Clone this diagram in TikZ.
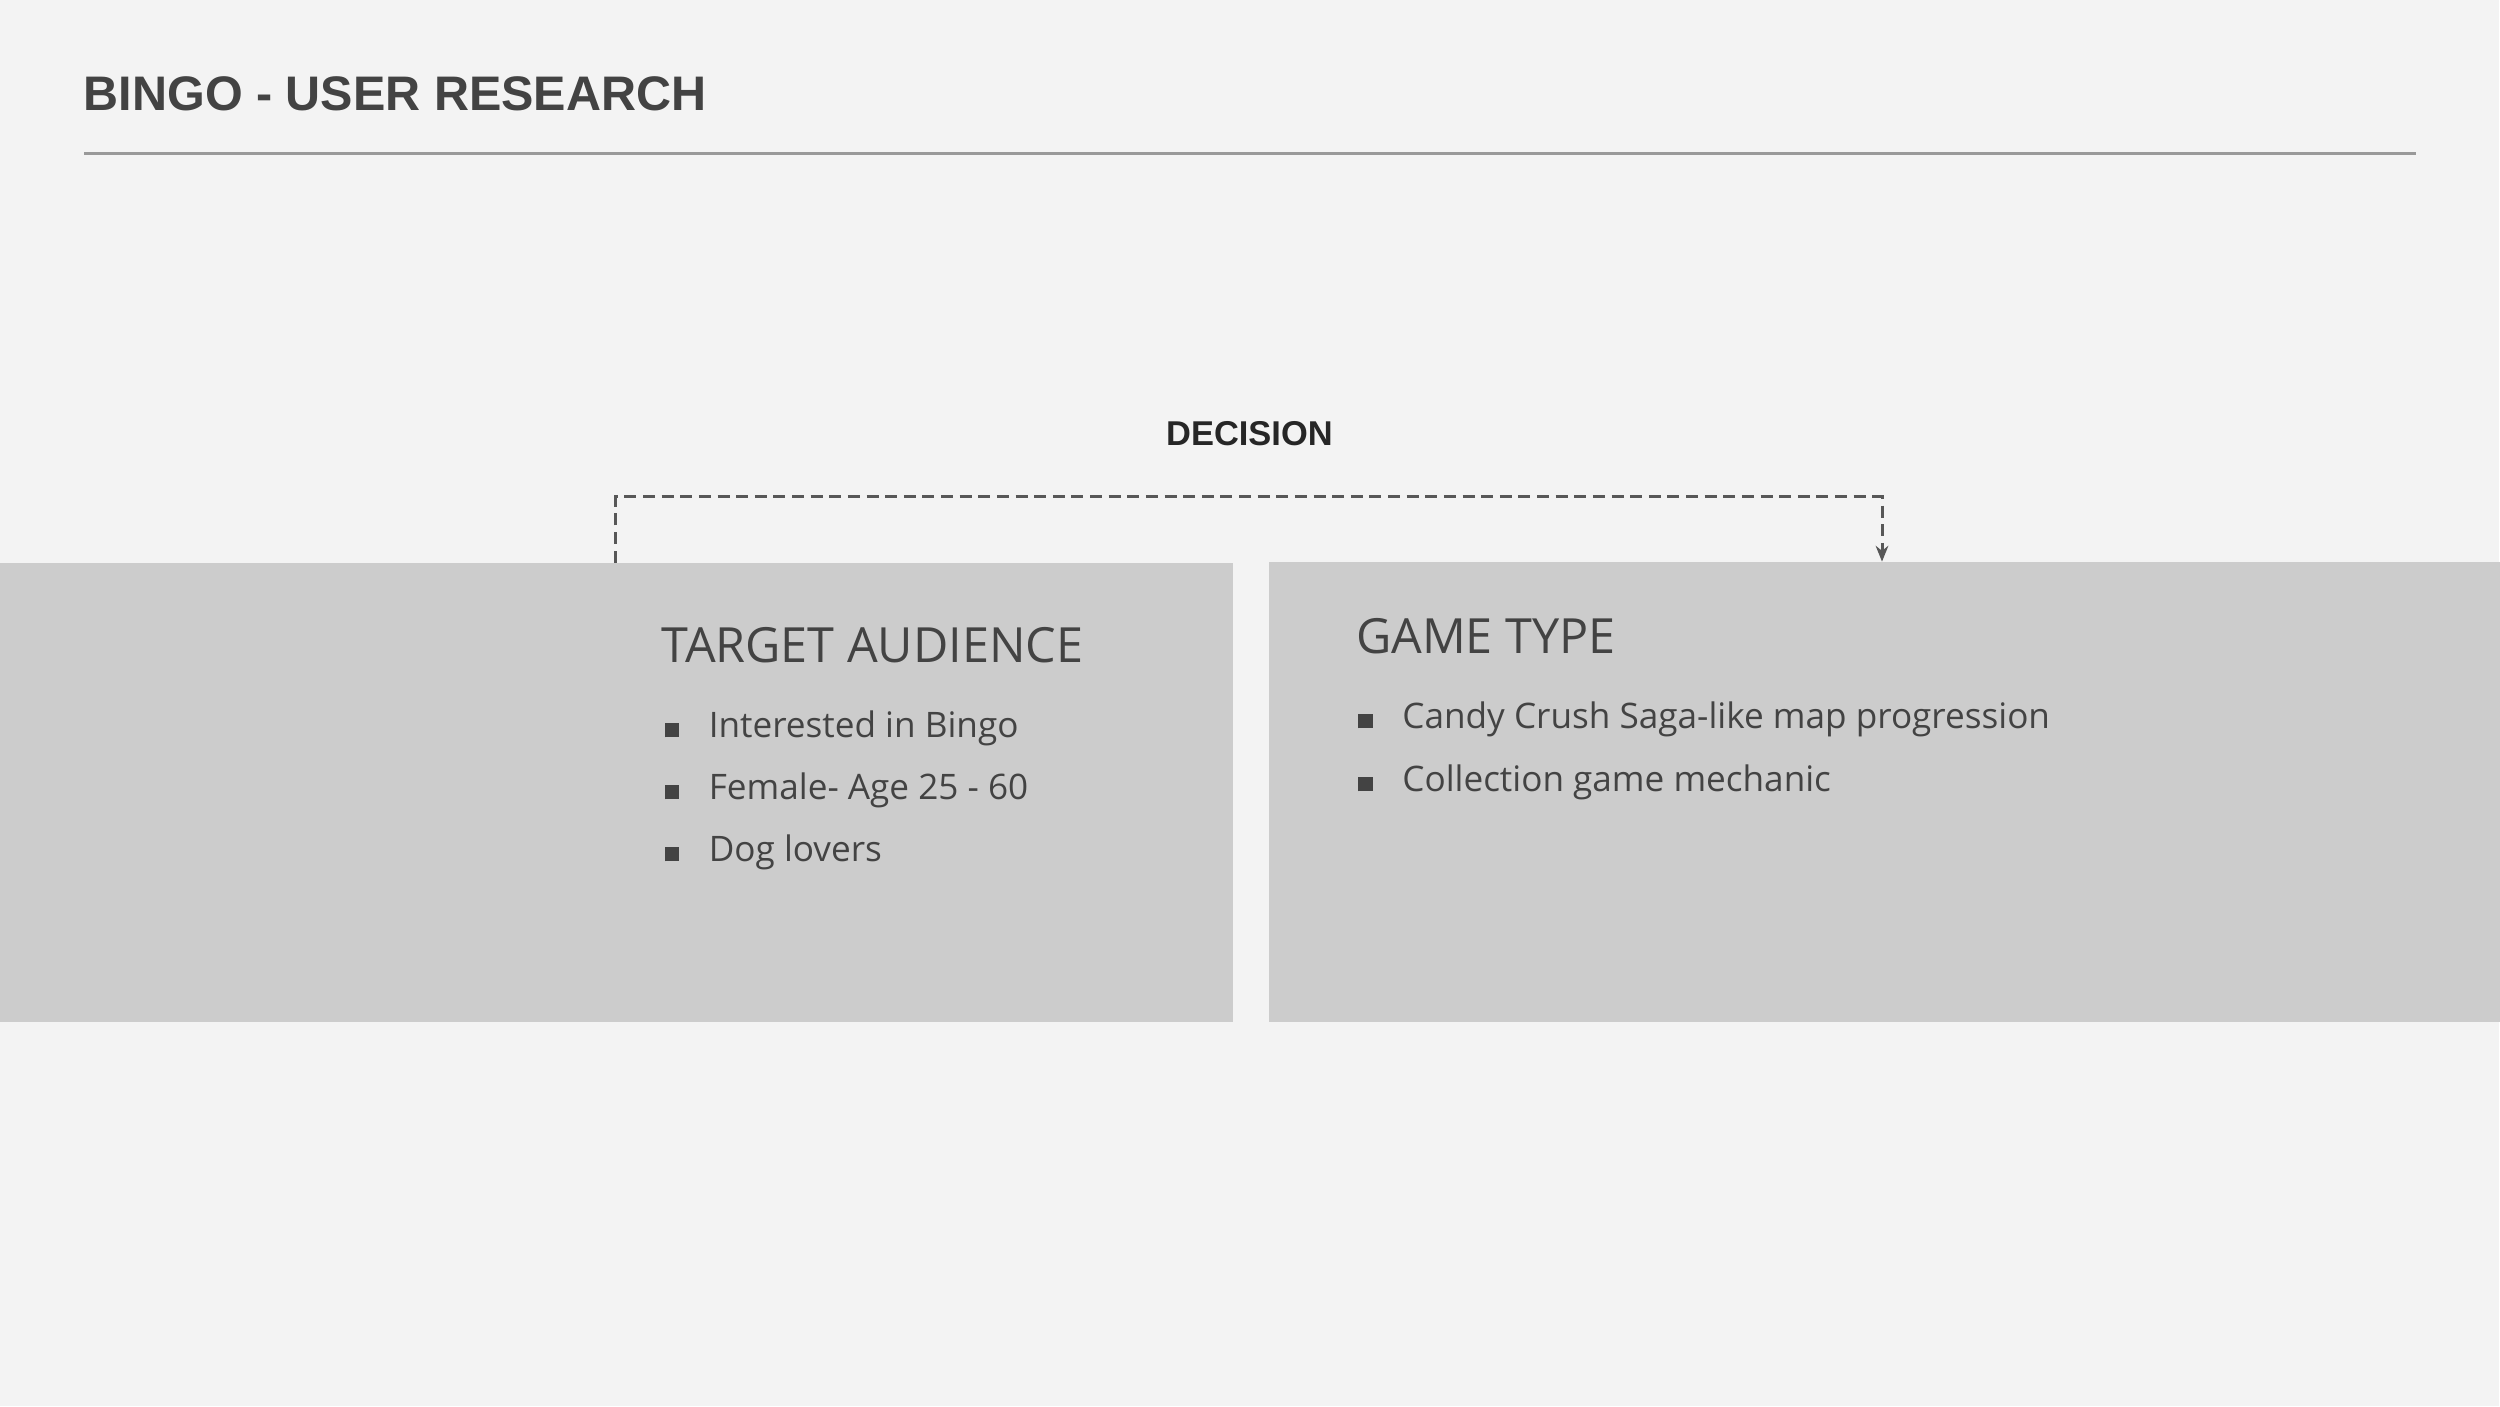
\documentclass[tikz,border=0pt]{standalone}
\usepackage{fontspec}
\setmainfont{Open Sans}
\newfontfamily\headfont{Liberation Sans}
\usetikzlibrary{arrows.meta,calc}

\definecolor{pagebg}{HTML}{F3F3F3}
\definecolor{panelgray}{HTML}{CCCCCC}
\definecolor{inkgray}{HTML}{434343}
\definecolor{rulegray}{HTML}{999999}
\definecolor{dashgray}{HTML}{575757}

\newcommand{\sqbullet}{{\color{inkgray}\rule{4.2pt}{4.2pt}}\hspace{8.4pt}}

\begin{document}
\begin{tikzpicture}[x=0.01cm, y=-0.01cm,
          panel/.style={rectangle, fill=panelgray, inner sep=0pt, anchor=north west},
          heading/.style={anchor=base west, inner sep=0pt, text=inkgray, font=\fontsize{13.8}{16}\selectfont},
          listitem/.style={anchor=base west, inner sep=0pt, text=inkgray, font=\fontsize{10}{12}\selectfont},
          decisionline/.style={dashgray, line width=0.85pt, dash pattern=on 3.4pt off 1.9pt,
            -{Stealth[length=4.5pt, width=3.6pt]}}]

        \fill[pagebg] (0,0) rectangle (2500,1407);

        % title
        \node[anchor=base west, inner sep=0pt, text=inkgray,
              font=\headfont\bfseries\fontsize{13.8}{16}\selectfont] (title) at (83,111) {BINGO - USER RESEARCH};
        \draw[rulegray, line width=0.8pt] (84,154) -- (2417,154);

        \node[anchor=base, inner sep=0pt, text=black!85,
              font=\headfont\bfseries\fontsize{9.8}{12}\selectfont] (decision) at (1250,446) {DECISION};

        % the two panels
        \node[panel, minimum width=12.33cm, minimum height=4.59cm] (audience) at (-1,563) {};
        \node[panel, minimum width=12.31cm, minimum height=4.60cm] (gametype) at (1269,562) {};

        \node[heading] (audiencehead) at (661,663) {TARGET AUDIENCE};
        \node[listitem] (aud1) at (664,738) {\sqbullet Interested in Bingo};
        \node[listitem] (aud2) at (664,800) {\sqbullet Female- Age 25 - 60};
        \node[listitem] (aud3) at (664,862) {\sqbullet Dog lovers};

        \node[heading] (gamehead) at (1356,654) {GAME TYPE};
        \node[listitem] (game1) at (1358,729) {\sqbullet Candy Crush Saga-like map progression};
        \node[listitem] (game2) at (1358,792) {\sqbullet Collection game mechanic};

        % decision link
        \coordinate (dleft)  at ($(audience.north west)+(617,0)$);
        \coordinate (dright) at ($(gametype.north west)+(614,0)$);
        \draw[decisionline] (dleft) -- ++(0,-66) -| (dright);

      \end{tikzpicture}
\end{document}
